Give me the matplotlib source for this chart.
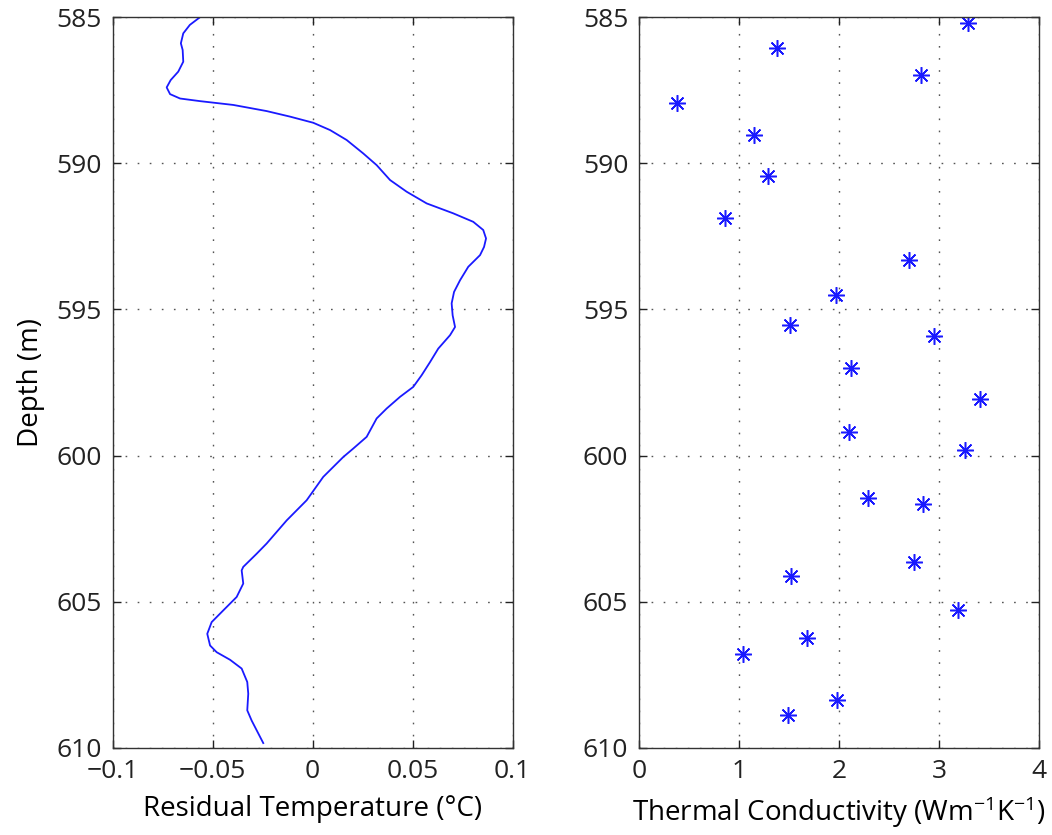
import matplotlib
matplotlib.use("Agg")
import matplotlib.pyplot as plt

plt.rcParams['font.family'] = ['Open Sans', 'DejaVu Sans']
plt.rcParams['mathtext.fontset'] = 'custom'
plt.rcParams['mathtext.rm'] = 'Open Sans'
plt.rcParams['mathtext.default'] = 'regular'

# residual temperature profile
res_temp = [-0.0564, -0.0614, -0.0647, -0.0659, -0.065, -0.0647, -0.0672, -0.071,
            -0.073, -0.0713, -0.0663, -0.0563, -0.0397, -0.023, -0.0113, 0.0003,
            0.0087, 0.017, 0.0253, 0.032, 0.0387, 0.047, 0.057, 0.0703,
            0.0803, 0.0853, 0.0867, 0.0857, 0.0837, 0.0778, 0.0737, 0.0707,
            0.0695, 0.07, 0.0712, 0.0687, 0.0628, 0.0587, 0.0545, 0.0503,
            0.0437, 0.037, 0.032, 0.027, 0.0203, 0.0153, 0.0053, -0.003,
            -0.013, -0.023, -0.028, -0.0347, -0.0355, -0.0347, -0.038, -0.0447,
            -0.0505, -0.0527, -0.0513, -0.048, -0.0413, -0.0355, -0.0327, -0.0322,
            -0.0327, -0.0305, -0.0247]
res_depth = [585.0, 585.26, 585.55, 585.89, 586.12, 586.52, 586.86, 587.15,
             587.40, 587.63, 587.78, 587.87, 588.00, 588.21, 588.40, 588.61,
             588.86, 589.20, 589.66, 590.06, 590.57, 590.97, 591.37, 591.71,
             592.00, 592.28, 592.57, 592.86, 593.14, 593.54, 594.00, 594.40,
             594.79, 595.20, 595.60, 595.88, 596.34, 596.80, 597.25, 597.65,
             597.99, 598.39, 598.73, 599.36, 599.76, 600.05, 600.73, 601.53,
             602.22, 603.01, 603.36, 603.81, 603.93, 604.38, 604.84, 605.30,
             605.70, 606.10, 606.50, 606.73, 606.99, 607.29, 607.75, 608.15,
             608.72, 609.07, 609.84]

# thermal conductivity samples
tc_value = [3.29, 1.38, 2.82, 0.38, 1.15, 1.29, 0.86, 2.70, 1.97, 1.51, 2.95, 2.12,
            3.41, 2.10, 3.26, 2.29, 2.84, 2.75, 1.52, 3.19, 1.68, 1.04, 1.98, 1.49]
tc_depth = [585.18, 586.06, 586.98, 587.95, 589.03, 590.43, 591.88, 593.29, 594.51,
            595.54, 595.91, 597.02, 598.07, 599.21, 599.82, 601.45, 601.67, 603.64,
            604.13, 605.27, 606.25, 606.80, 608.38, 608.89]

depth_ticks = [585, 590, 595, 600, 605, 610]
temp_ticks = [-0.1, -0.05, 0, 0.05, 0.1]
temp_labels = ['\u22120.1', '\u22120.05', '0', '0.05', '0.1']
tc_ticks = [0, 1, 2, 3, 4]

fig = plt.figure(figsize=(10.52, 8.35), dpi=100)
ax1 = fig.add_axes([0.1071, 0.1045, 0.3802, 0.8748])
ax2 = fig.add_axes([0.6077, 0.1045, 0.3802, 0.8748])

ax1.plot(res_temp, res_depth, color='#1a1aff', lw=1.3, solid_joinstyle='round')
ax2.plot(tc_value, tc_depth, linestyle='none', marker=(8, 2, 0), ms=12,
         mew=1.1, color='#1a1aff')

for ax in (ax1, ax2):
    ax.set_ylim(610, 585)
    ax.set_yticks(depth_ticks)
    ax.grid(True, color='#555555', lw=1.0, linestyle=(0, (1.2, 7.5)))
    ax.tick_params(direction='in', length=6, width=1, top=True, right=True,
                   labelsize=19, pad=8, colors='#222222')
    for s in ax.spines.values():
        s.set_linewidth(1.0)
        s.set_color('#333333')

ax1.set_xlim(-0.1, 0.1)
ax1.set_xticks(temp_ticks)
ax1.set_xticklabels(temp_labels)
ax1.set_xlabel('Residual Temperature (\u00b0C)', fontsize=20, labelpad=8)
ax1.set_ylabel('Depth (m)', fontsize=20, labelpad=8)

ax2.set_xlim(0, 4)
ax2.set_xticks(tc_ticks)
ax2.set_xlabel('Thermal Conductivity (Wm$^{-1}$K$^{-1}$)', fontsize=20, labelpad=8)

fig.savefig('out.png', dpi=100)
